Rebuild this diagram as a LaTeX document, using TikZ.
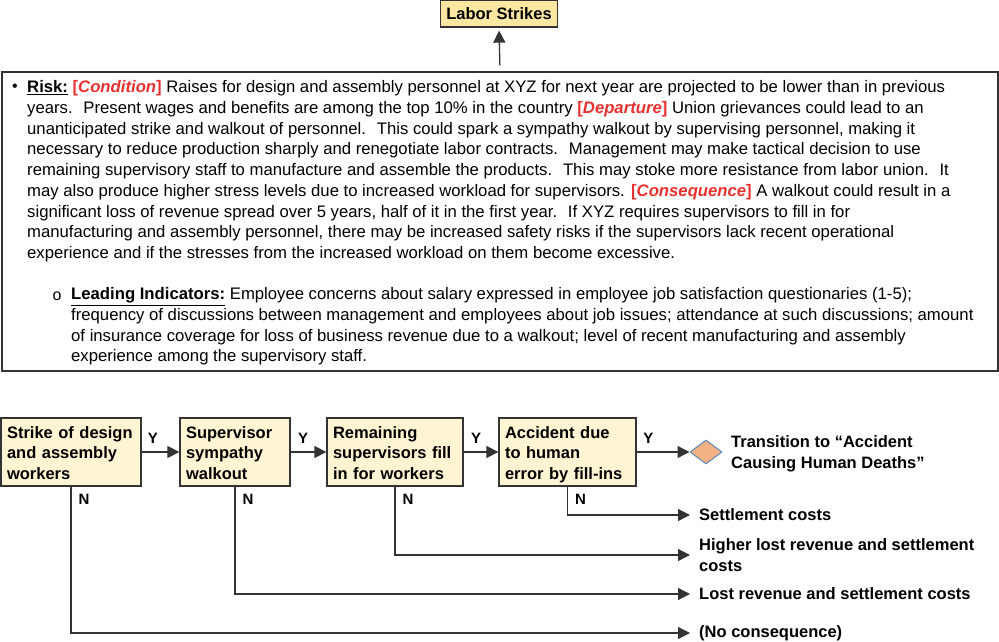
\documentclass[tikz,border=0pt]{standalone}
\usepackage{fontspec}
\setmainfont{Liberation Sans}
\usepackage{xcolor}
\usepackage{tikz}
\usetikzlibrary{shapes,arrows,arrows.meta,positioning,calc,shapes.geometric}

\definecolor{boxfill}{HTML}{FFF5D2}
\definecolor{strikefill}{HTML}{FBE7A2}
\definecolor{diamondfill}{HTML}{F4B183}
\definecolor{diamondblue}{HTML}{5B87BE}
\definecolor{riskred}{HTML}{E8312F}
\definecolor{linegray}{HTML}{333333}

\newcommand{\riskflag}[1]{\textcolor{riskred}{\textbf{[\textit{#1}]}}}
\newcommand{\topgap}{\rule{0pt}{19.5pt}}

\begin{document}
\begin{tikzpicture}[x=1pt, y=-1pt,
    eventbox/.style={draw=linegray, line width=1.3pt, fill=boxfill, rectangle, minimum height=68pt, align=left, inner xsep=6pt, inner ysep=0pt, font=\fontsize{16.5}{20.5}\selectfont\bfseries},
    outtext/.style={anchor=west, align=left, inner xsep=9pt, inner ysep=0pt, font=\fontsize{16.5}{20.5}\selectfont\bfseries},
    conn/.style={line width=1.3pt, draw=linegray, -{Triangle[length=12pt,width=12pt]}},
    flag/.style={font=\fontsize{15}{18}\selectfont\bfseries, inner sep=2pt},
    nflag/.style={flag, anchor=west, xshift=5pt, yshift=-13pt}]
    \useasboundingbox (0,0) rectangle (999,642);

    % Top event
    \node[draw=linegray, line width=1.3pt, fill=strikefill, rectangle, minimum height=27pt, inner xsep=5.5pt, font=\fontsize{16.5}{20}\selectfont\bfseries] (strikes) at (499,13.5) {Labor Strikes};

    % Risk statement box
    \node[draw=linegray, line width=1.2pt, rectangle, minimum width=996pt, minimum height=299pt, inner sep=0pt] (riskbox) at (500,221.5) {};
    \node[font=\fontsize{16}{20}\selectfont] (dot) at (15,88) {\textbullet};
    \node[anchor=north west, inner sep=0pt, align=left, font=\fontsize{16.7}{20.7}\selectfont] (risktext) at (27,80.5) {
        \underline{\textbf{Risk:}} \riskflag{Condition} Raises for design and assembly personnel at XYZ for next year are projected to be lower than in previous\\
        years.~ Present wages and benefits are among the top 10\% in the country \riskflag{Departure} Union grievances could lead to an\\
        unanticipated strike and walkout of personnel.~ This could spark a sympathy walkout by supervising personnel, making it\\
        necessary to reduce production sharply and renegotiate labor contracts.~ Management may make tactical decision to use\\
        remaining supervisory staff to manufacture and assemble the products.~ This may stoke more resistance from labor union.~ It\\
        may also produce higher stress levels due to increased workload for supervisors. \riskflag{Consequence} A walkout could result in a\\
        significant loss of revenue spread over 5 years, half of it in the first year.~ If XYZ requires supervisors to fill in for\\
        manufacturing and assembly personnel, there may be increased safety risks if the supervisors lack recent operational\\
        experience and if the stresses from the increased workload on them become excessive.
    };
    \node[font=\fontsize{16}{20}\selectfont] (circ) at (57,296) {o};
    \node[anchor=north west, inner sep=0pt, align=left, font=\fontsize{16.7}{20.7}\selectfont] (indtext) at (71,287.5) {
        \underline{\textbf{Leading Indicators:}} Employee concerns about salary expressed in employee job satisfaction questionaries (1-5);\\
        frequency of discussions between management and employees about job issues; attendance at such discussions; amount\\
        of insurance coverage for loss of business revenue due to a walkout; level of recent manufacturing and assembly\\
        experience among the supervisory staff.
    };

    % Event chain
    \node[eventbox, text width=128pt] (strike) at (71,452) {\topgap Strike of design\\and assembly\\workers\strut};
    \node[eventbox, text width=98pt] (walkout) at (235,452) {\topgap Supervisor\\sympathy\\walkout\strut};
    \node[eventbox, text width=124pt] (fillin) at (395,452) {\topgap Remaining\\supervisors fill\\in for workers\strut};
    \node[eventbox, text width=125pt] (accident) at (567.5,452) {\topgap Accident due\\to human\\error by fill-ins\strut};
    \node[diamond, draw=diamondblue, line width=1pt, fill=diamondfill, minimum width=32pt, minimum height=24pt, inner sep=0pt] (trans) at (706,452) {};

    % Outcomes
    \node[outtext, inner xsep=0pt] (transtext) at (731,454) {Transition to “Accident\\Causing Human Deaths”};
    \node[outtext] (settle) at (690,515) {Settlement costs};
    \node[outtext] (highlost) at (690,555) {Higher lost revenue and settlement\\costs};
    \node[outtext] (lost) at (690,594) {Lost revenue and settlement costs};
    \node[outtext] (nocons) at (690,633) {(No consequence)};

    % Yes branches
    \draw[conn] (strike) -- node[flag, above=6pt, pos=0.3] {Y} (walkout);
    \draw[conn] (walkout) -- node[flag, above=6pt, pos=0.35] {Y} (fillin);
    \draw[conn] (fillin) -- node[flag, above=6pt, pos=0.36] {Y} (accident);
    \draw[conn] (accident) -- node[flag, above=6pt, pos=0.22] {Y} (trans);

    % No branches
    \draw[conn] (accident.south) node[nflag] {N} |- (settle.west);
    \draw[conn] (fillin.south) node[nflag] {N} |- (highlost.west);
    \draw[conn] (walkout.south) node[nflag] {N} |- (lost.west);
    \draw[conn] (strike.south) node[nflag] {N} |- (nocons.west);

    % Link to top event
    \draw[conn, shorten <=6pt, shorten >=3pt] (riskbox.north) -- (strikes.south);
\end{tikzpicture}
\end{document}
